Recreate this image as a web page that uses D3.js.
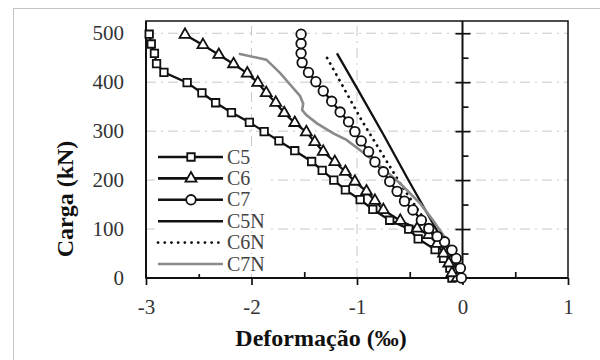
<!DOCTYPE html>
<html>
<head>
<meta charset="utf-8">
<script src="https://cdn.jsdelivr.net/npm/d3@7"></script>
<style>
  body { margin: 0; background: #fff; }
  svg { display: block; }
  .tk text { font-family: "Liberation Serif", serif; font-size: 21px; fill: #333; }
</style>
</head>
<body>
<div id="chart"></div>
<script>
// deformation (per mil) / load (kN)
var c5 = [[-0.10,0],[-0.12,20],[-0.18,40],[-0.26,58],[-0.42,80],[-0.51,100],[-0.69,118],[-0.85,140],
  [-0.97,160],[-1.11,180],[-1.22,200],[-1.33,220],[-1.43,238],[-1.59,260],[-1.74,280],[-1.88,299],
  [-2.02,318],[-2.19,338],[-2.34,358],[-2.47,378],[-2.61,399],[-2.83,420],[-2.90,438],[-2.92,459],
  [-2.95,478],[-2.97,498]];
var c6 = [[-0.05,0],[-0.10,10],[-0.13,30],[-0.18,50],[-0.24,70],[-0.32,88],[-0.43,101],[-0.59,117],
  [-0.75,139],[-0.83,158],[-0.91,177],[-1.02,197],[-1.11,217],[-1.21,237],[-1.32,258],[-1.40,278],
  [-1.48,298],[-1.59,317],[-1.69,337],[-1.77,358],[-1.86,378],[-1.94,399],[-2.04,418],[-2.17,437],
  [-2.31,456],[-2.46,476],[-2.63,497]];
var c7 = [[-0.01,0],[-0.02,20],[-0.06,40],[-0.10,57],[-0.17,74],[-0.24,85],[-0.32,101],[-0.39,118],
  [-0.47,139],[-0.55,157],[-0.62,177],[-0.69,197],[-0.75,217],[-0.83,237],[-0.89,258],[-0.96,280],
  [-1.02,299],[-1.08,319],[-1.16,339],[-1.24,361],[-1.32,382],[-1.39,401],[-1.46,420],[-1.52,440],
  [-1.53,459],[-1.53,479],[-1.53,498]];
var c5n = [[0,0],[-0.12,50],[-0.25,100],[-0.5,195],[-0.75,293],[-1.0,388],[-1.19,459]];
var c6n = [[0,0],[-0.15,50],[-0.3,100],[-0.59,193],[-0.95,320],[-1.29,452]];
var c7n = [[0,0],[-0.02,10],[-0.05,37],[-0.15,78],[-0.28,118],[-0.40,152],[-0.59,193],[-0.81,234],
  [-0.97,261],[-1.10,282],[-1.22,295],[-1.38,316],[-1.48,333],[-1.52,343],[-1.51,356],[-1.54,372],
  [-1.73,419],[-1.86,446],[-2.12,458]];

var xTicks = [-3, -2, -1, 0, 1];
var yTicks = [0, 100, 200, 300, 400, 500];
var names = ["C5", "C6", "C7", "C5N", "C6N", "C7N"];

var W = 600, H = 360;
var x = d3.scaleLinear().domain([-3, 1]).range([146, 568]);
var y = d3.scaleLinear().domain([0, 525]).range([278, 21]);

var svg = d3.select("#chart").append("svg")
    .attr("width", W)
    .attr("height", H);

svg.append("rect")
    .attr("x", 13.5).attr("y", 8.5)
    .attr("width", 620).attr("height", 400)
    .attr("fill", "#fff")
    .attr("stroke", "#c4c4c4");

// grid
svg.append("g").selectAll("line")
    .data([100, 200, 300, 400, 500])
    .enter().append("line")
    .attr("x1", x(-3)).attr("x2", x(1))
    .attr("y1", function(d) { return y(d); })
    .attr("y2", function(d) { return y(d); })
    .attr("stroke", "#c8c8c8")
    .attr("stroke-dasharray", "10,5,2,5");
svg.append("g").selectAll("line")
    .data([-2, -1])
    .enter().append("line")
    .attr("y1", y(0)).attr("y2", y(525))
    .attr("x1", function(d) { return x(d); })
    .attr("x2", function(d) { return x(d); })
    .attr("stroke", "#c8c8c8")
    .attr("stroke-dasharray", "10,5,2,5");

// frame
svg.append("rect")
    .attr("x", x(-3)).attr("y", y(525))
    .attr("width", x(1) - x(-3)).attr("height", y(0) - y(525))
    .attr("fill", "none")
    .attr("stroke", "#111")
    .attr("stroke-width", 1.5);

// y labels on the left
svg.append("g")
    .attr("class", "tk")
    .attr("transform", "translate(" + (x(-3) - 16) + ",0)")
    .call(d3.axisLeft(y).tickValues(yTicks).tickSize(0).tickPadding(6))
    .call(function(g) { g.select(".domain").remove(); });

// y ticks on the zero axis
svg.append("g")
    .attr("transform", "translate(" + x(0) + ",0)")
    .call(d3.axisRight(y).tickValues([100, 200, 300, 400, 500]).tickSize(8).tickFormat(""))
    .call(function(g) { g.select(".domain").remove(); });
svg.append("g")
    .attr("transform", "translate(" + x(0) + ",0)")
    .call(d3.axisLeft(y).tickValues([100, 200, 300, 400, 500]).tickSize(7).tickFormat(""))
    .call(function(g) { g.select(".domain").remove(); });
svg.append("g")
    .attr("transform", "translate(" + x(0) + ",0)")
    .call(d3.axisRight(y).tickValues([50, 150, 250, 350, 450]).tickSize(6).tickFormat(""))
    .call(function(g) { g.select(".domain").remove(); });
svg.append("line")
    .attr("x1", x(0)).attr("x2", x(0))
    .attr("y1", y(0)).attr("y2", y(525))
    .attr("stroke", "#111").attr("stroke-width", 2);

// x axis
svg.append("g")
    .attr("class", "tk")
    .attr("transform", "translate(0," + y(0) + ")")
    .call(d3.axisBottom(x).tickValues(xTicks).tickSize(7).tickPadding(14)
        .tickFormat(function(d) { return String(d); }))
    .call(function(g) { g.select(".domain").remove(); });
svg.append("g")
    .attr("transform", "translate(0," + y(0) + ")")
    .call(d3.axisTop(x).tickValues([-2.5, -1.5, -0.5, 0.5]).tickSize(6).tickFormat(""))
    .call(function(g) { g.select(".domain").remove(); });
svg.append("line")
    .attr("x1", x(-3)).attr("x2", x(1))
    .attr("y1", y(0)).attr("y2", y(0))
    .attr("stroke", "#111").attr("stroke-width", 2);
svg.append("line")
    .attr("x1", x(-3)).attr("x2", x(-3))
    .attr("y1", y(0)).attr("y2", y(525))
    .attr("stroke", "#111").attr("stroke-width", 2);
svg.selectAll(".tick line").attr("stroke", "#111").attr("stroke-width", 1.7);

var line = d3.line()
    .x(function(d) { return x(d[0]); })
    .y(function(d) { return y(d[1]); });

// series lines
var styles = [
    {data: c5, color: "#111", width: 2.3, dash: null},
    {data: c6, color: "#111", width: 2.3, dash: null},
    {data: c7, color: "#111", width: 2.3, dash: null},
    {data: c5n, color: "#111", width: 2.3, dash: null},
    {data: c6n, color: "#111", width: 2.8, dash: "0.1,6.2"},
    {data: c7n, color: "#8a8a8a", width: 2.6, dash: null}
];
styles.forEach(function(s) {
    svg.append("path")
        .datum(s.data)
        .attr("d", line)
        .attr("fill", "none")
        .attr("stroke", s.color)
        .attr("stroke-width", s.width)
        .attr("stroke-linecap", s.dash ? "round" : "butt")
        .attr("stroke-dasharray", s.dash);
});

var sq = d3.symbol().type(d3.symbolSquare).size(56);
var tri = d3.symbol().type(d3.symbolTriangle).size(52);
var circ = d3.symbol().type(d3.symbolCircle).size(72);

function markers(data, sym) {
    svg.append("g").selectAll("path")
        .data(data)
        .enter().append("path")
        .attr("transform", function(d) { return "translate(" + x(d[0]) + "," + y(d[1]) + ")"; })
        .attr("d", sym)
        .attr("fill", "#fff")
        .attr("stroke", "#111")
        .attr("stroke-width", 1.8);
}
markers(c5, sq);
markers(c6, tri);
markers(c7, circ);

// legend
var leg = svg.append("g");
var symFor = [sq, tri, circ, null, null, null];
names.forEach(function(n, i) {
    var ly = 157 + i * 21.4;
    var s = styles[i];
    leg.append("rect")
        .attr("x", 155).attr("y", ly - 10)
        .attr("width", 112).attr("height", 20)
        .attr("fill", "#fff");
    leg.append("line")
        .attr("x1", 158).attr("x2", 223)
        .attr("y1", ly).attr("y2", ly)
        .attr("stroke", s.color)
        .attr("stroke-width", i == 4 ? 2.8 : 2.6)
        .attr("stroke-linecap", s.dash ? "round" : "butt")
        .attr("stroke-dasharray", i == 4 ? "0.1,6.6" : null);
    if (symFor[i]) {
        leg.append("path")
            .attr("transform", "translate(191," + ly + ")")
            .attr("d", symFor[i])
            .attr("fill", "#fff")
            .attr("stroke", "#111")
            .attr("stroke-width", 1.8);
    }
    leg.append("text")
        .attr("x", 227).attr("y", ly + 6.5)
        .style("font-family", "Liberation Serif, serif")
        .style("font-size", "20px")
        .attr("fill", "#444")
        .text(n);
});

// axis titles
svg.append("text")
    .attr("transform", "translate(73,199) rotate(-90)")
    .attr("text-anchor", "middle")
    .style("font-family", "Liberation Serif, serif")
    .style("font-size", "24px")
    .style("font-weight", "bold")
    .attr("fill", "#111")
    .text("Carga (kN)");
svg.append("text")
    .attr("x", 321).attr("y", 346)
    .attr("text-anchor", "middle")
    .style("font-family", "Liberation Serif, serif")
    .style("font-size", "24px")
    .style("font-weight", "bold")
    .attr("fill", "#111")
    .text("Deformação (‰)");
</script>
</body>
</html>
